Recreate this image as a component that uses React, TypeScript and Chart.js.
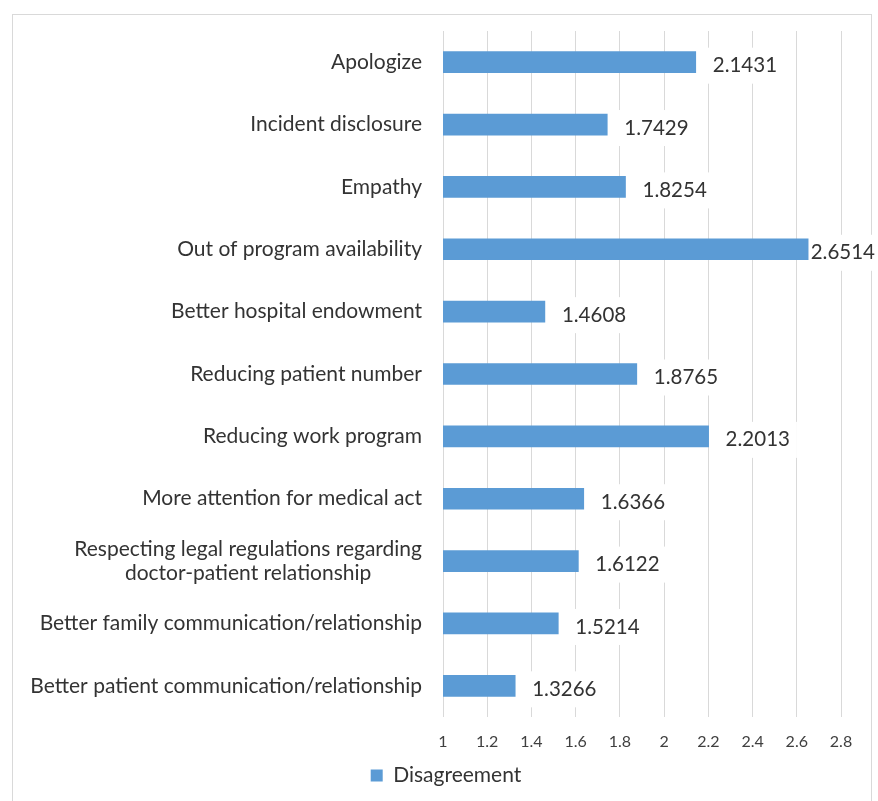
import React, { useEffect, useRef } from "react";
import { Chart, registerables } from "chart.js";

Chart.register(...registerables);

// ---- data ----
const categories: (string | string[])[] = [
  "Apologize",
  "Incident disclosure",
  "Empathy",
  "Out of program availability",
  "Better hospital endowment",
  "Reducing patient number",
  "Reducing work program",
  "More attention for medical act",
  ["Respecting legal regulations regarding", "doctor-patient relationship"],
  "Better family communication/relationship",
  "Better patient communication/relationship",
];
const disagreement = [
  2.1431, 1.7429, 1.8254, 2.6514, 1.4608, 1.8765, 2.2013, 1.6366, 1.6122, 1.5214,
  1.3266,
];
const xTicks = [1, 1.2, 1.4, 1.6, 1.8, 2, 2.2, 2.4, 2.6, 2.8];
const seriesName = "Disagreement";

const BLUE = "#5B9BD5";
const GRID = "#d9d9d9";
const TEXT = "#333333";
const FONT = "Lato, 'Open Sans', sans-serif";

const borderPlugin = {
  id: "outerBorder",
  beforeDraw(chart: any) {
    const ctx = chart.ctx;
    ctx.save();
    ctx.fillStyle = "#ffffff";
    ctx.fillRect(0, 0, chart.width, chart.height);
    ctx.strokeStyle = GRID;
    ctx.lineWidth = 1;
    ctx.strokeRect(12.5, 14.5, 859, 900);
    ctx.restore();
  },
};

const yLabelPlugin = {
  id: "yLabels",
  afterDraw(chart: any) {
    const ctx = chart.ctx;
    const yScale = chart.scales.y;
    const rightEdge = 422;
    const lineGap = 23.5;
    ctx.save();
    ctx.font = `21px ${FONT}`;
    ctx.fillStyle = TEXT;
    ctx.textAlign = "center";
    ctx.textBaseline = "middle";
    categories.forEach((lab, i) => {
      const lines = Array.isArray(lab) ? lab : [lab];
      const y = yScale.getPixelForTick(i);
      const blockW = Math.max(...lines.map((l) => ctx.measureText(l).width));
      const cx = rightEdge - blockW / 2;
      const startY = y - ((lines.length - 1) * lineGap) / 2;
      lines.forEach((l, k) => ctx.fillText(l, cx, startY + k * lineGap));
    });
    ctx.restore();
  },
};

const valueLabelPlugin = {
  id: "valueLabels",
  afterDatasetsDraw(chart: any) {
    const ctx = chart.ctx;
    const meta = chart.getDatasetMeta(0);
    ctx.save();
    ctx.font = `20.5px ${FONT}`;
    ctx.textAlign = "left";
    ctx.textBaseline = "middle";
    meta.data.forEach((el: any, i: number) => {
      const txt = disagreement[i].toFixed(4);
      const w = ctx.measureText(txt).width;
      // keep the label inside the chart frame, like the spreadsheet does
      const tx = Math.min(el.x + 17, 875 - w);
      const ty = el.y + 3.5;
      const boxL = Math.max(tx - 7, el.x + 1);
      ctx.fillStyle = "#ffffff";
      ctx.fillRect(boxL, ty - 18, tx + w + 7 - boxL, 36);
      ctx.fillStyle = TEXT;
      ctx.fillText(txt, tx, ty);
    });
    ctx.restore();
  },
};

export default function App() {
  const ref = useRef<HTMLCanvasElement>(null);
  useEffect(() => {
    const canvas = ref.current!;
    const chart = new Chart(canvas, {
      type: "bar",
      data: {
        labels: categories as any,
        datasets: [
          {
            label: seriesName,
            data: disagreement,
            backgroundColor: BLUE,
            borderWidth: 0,
            barThickness: 21,
          },
        ],
      },
      options: {
        indexAxis: "y",
        responsive: false,
        animation: false,
        layout: { padding: { left: 14, right: 0, top: 31, bottom: 5 } },
        scales: {
          x: {
            type: "linear",
            position: "bottom",
            min: 1,
            max: 2.8,
            afterBuildTicks: (s: any) => {
              s.ticks = xTicks.map((v) => ({ value: v }));
            },
            afterFit: (s: any) => {
              s.height = 34;
            },
            grid: { color: GRID, lineWidth: 1, drawTicks: false },
            border: { display: false },
            ticks: {
              font: { family: FONT, size: 16 },
              color: "#404040",
              padding: 15,
              maxRotation: 0,
              autoSkip: false,
              callback: (v: any) => String(Number(Number(v).toFixed(1))),
            },
          },
          y: {
            type: "category",
            position: "left",
            grid: { display: false },
            border: { display: false },
            ticks: { display: false },
            afterFit: (s: any) => {
              s.width = 429;
            },
          },
          yRight: {
            type: "linear",
            position: "right",
            grid: { display: false },
            border: { display: false },
            ticks: { display: false },
            afterFit: (s: any) => {
              s.width = 37;
            },
          },
        },
        plugins: {
          legend: {
            position: "bottom",
            labels: {
              boxWidth: 12,
              boxHeight: 12,
              padding: 14,
              color: TEXT,
              font: { family: FONT, size: 21 },
            },
          },
          tooltip: { enabled: false },
        },
      } as any,
      plugins: [borderPlugin, yLabelPlugin, valueLabelPlugin],
    });
    return () => chart.destroy();
  }, []);
  return (
    <div
      style={{
        position: "absolute",
        left: 0,
        top: 0,
        width: 878,
        height: 801,
        background: "#fff",
      }}
    >
      <canvas ref={ref} width={878} height={801} style={{ display: "block" }} />
    </div>
  );
}
